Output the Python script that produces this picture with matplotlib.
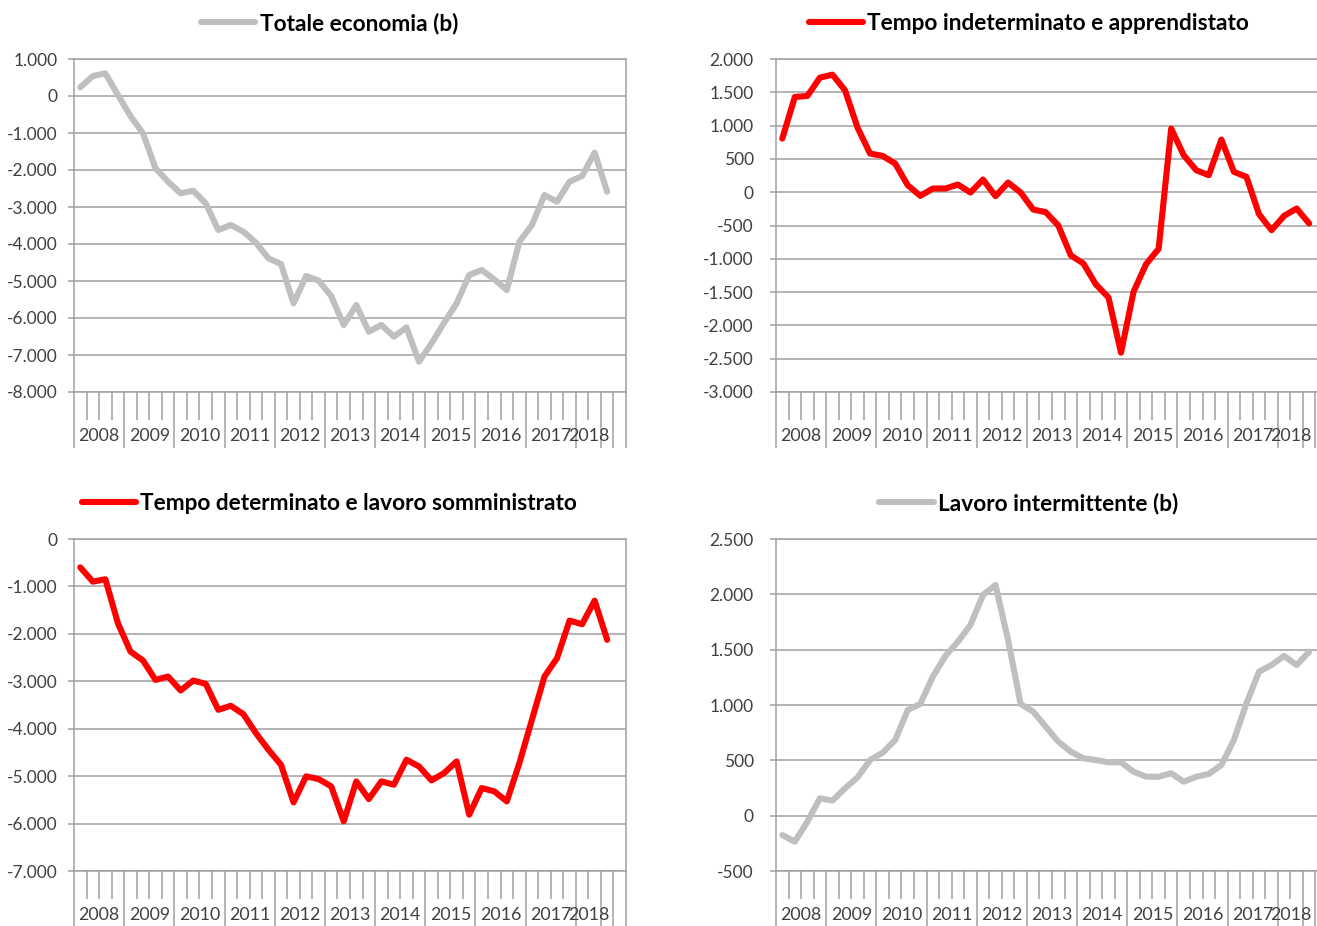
import matplotlib.pyplot as plt
import numpy as np
from matplotlib.ticker import FuncFormatter, FixedLocator

plt.rcParams['font.family'] = ['Lato', 'DejaVu Sans']

# trimestri 2008 T1 - 2018 T3 (asse con 44 categorie, l'ultima vuota)
n_categories = 44
years = ['2008', '2009', '2010', '2011', '2012', '2013', '2014', '2015',
         '2016', '2017', '2018', '', '']
year_span = [4, 4, 4, 4, 4, 4, 4, 4, 4, 4, 2, 1, 1]

totale = [234, 540, 612, 27, -540, -1010, -1955, -2316, -2631, -2559, -2901,
          -3622, -3487, -3667, -3964, -4388, -4541, -5604, -4865, -4991,
          -5406, -6190, -5649, -6370, -6190, -6505, -6253, -7181, -6685,
          -6127, -5604, -4838, -4703, -4956, -5244, -3937, -3487, -2676,
          -2856, -2316, -2162, -1532, -2586]

indeterminato = [805, 1430, 1445, 1720, 1765, 1530, 970, 580, 545, 430, 105,
                 -55, 55, 55, 115, -5, 190, -60, 145, -5, -260, -300, -500,
                 -950, -1070, -1385, -1580, -2410, -1495, -1080, -850, 955,
                 555, 330, 255, 790, 305, 230, -330, -570, -355, -245, -470]

determinato = [-597, -899, -849, -1776, -2373, -2562, -2970, -2900, -3194,
               -2984, -3054, -3601, -3517, -3693, -4093, -4444, -4760, -5553,
               -5005, -5061, -5216, -5953, -5111, -5483, -5111, -5181, -4654,
               -4795, -5090, -4935, -4689, -5813, -5251, -5321, -5532, -4725,
               -3812, -2900, -2513, -1720, -1797, -1299, -2127]

intermittente = [-175, -235, -54, 157, 136, 247, 346, 503, 569, 684, 955,
                 1009, 1256, 1443, 1572, 1723, 1994, 2084, 1587, 1009, 940,
                 804, 669, 578, 518, 503, 482, 482, 398, 352, 352, 383, 307,
                 352, 377, 458, 684, 1015, 1301, 1361, 1443, 1361, 1482]

GRAY = '#BFBFBF'
RED = '#FF0000'
GRID = '#A0A0A0'
TXT = '#404040'

panels = [
    ('Totale economia (b)', totale, GRAY, (-8000, 1000), 1000),
    ('Tempo indeterminato e apprendistato', indeterminato, RED, (-3000, 2000), 500),
    ('Tempo determinato e lavoro somministrato', determinato, RED, (-7000, 0), 1000),
    ('Lavoro intermittente (b)', intermittente, GRAY, (-500, 2500), 500),
]

W, H = 1317, 926
fig = plt.figure(figsize=(W / 100, H / 100), dpi=100)

# posizioni in pixel: (sinistra, alto, basso)
boxes = [(74, 59, 392), (776, 59, 392), (74, 539, 871), (776, 539, 871)]
plot_w = 552
legend_x = [329.5, 1029, 329.5, 1029]
legend_y = [23, 23, 503, 503]


def fmt(v, pos):
    return f'{v:,.0f}'.replace(',', '.')


boundaries = np.concatenate([[0], np.cumsum(year_span)])
centers = boundaries[:-1] + np.array(year_span) / 2

for i, (title, values, color, ylim, step) in enumerate(panels):
    left, top, bottom = boxes[i]
    ax = fig.add_axes([left / W, 1 - bottom / H, plot_w / W, (bottom - top) / H])
    x = np.arange(len(values)) + 0.5
    line, = ax.plot(x, values, color=color, lw=4.4, solid_joinstyle='round',
                    solid_capstyle='round', zorder=3)
    ax.set_xlim(0, n_categories)
    ax.set_ylim(*ylim)
    ax.set_yticks(np.arange(ylim[0], ylim[1] + 1, step))
    ax.yaxis.set_major_formatter(FuncFormatter(fmt))
    ax.grid(axis='y', color=GRID, lw=1.1)
    ax.set_axisbelow(True)
    for s in ax.spines.values():
        s.set_color(GRID)
        s.set_linewidth(1.1)

    ax.xaxis.set_major_locator(FixedLocator(boundaries))
    ax.xaxis.set_minor_locator(FixedLocator(np.arange(n_categories + 1)))
    ax.tick_params(axis='x', which='major', length=40, width=1.1, color=GRID,
                   labelbottom=False)
    ax.tick_params(axis='x', which='minor', length=20, width=1.1, color=GRID)
    ax.tick_params(axis='y', length=4, width=1.1, color=GRID, labelsize=12.5,
                   labelcolor=TXT, pad=8 if left < 100 else 12)

    for c, lab in zip(centers, years):
        ax.annotate(lab, xy=(c, 0), xycoords=('data', 'axes fraction'),
                    xytext=(0, -31.5), textcoords='offset points',
                    ha='center', va='center', fontsize=12.8, color=TXT)

    ax.legend([line], [title], loc='center', frameon=False,
              bbox_to_anchor=(legend_x[i] / W, 1 - legend_y[i] / H),
              bbox_transform=fig.transFigure, handlelength=2.4,
              handletextpad=0.2, borderpad=0,
              prop={'weight': 'bold', 'size': 16.3})

fig.savefig('out.png', dpi=100)
